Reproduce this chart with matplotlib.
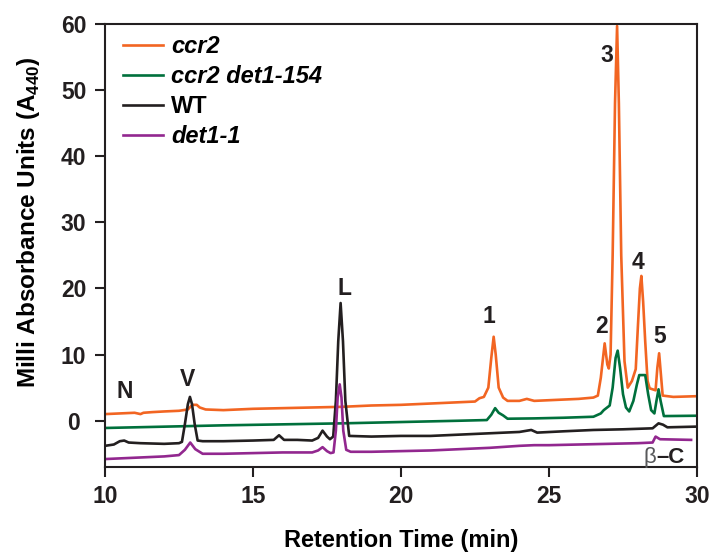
import matplotlib
matplotlib.use("Agg")
import matplotlib.pyplot as plt

plt.rcParams['font.family'] = ['Liberation Sans', 'DejaVu Sans']
plt.rcParams['font.weight'] = 'bold'
plt.rcParams['mathtext.fontset'] = 'custom'
plt.rcParams['mathtext.rm'] = 'Liberation Sans:bold'
plt.rcParams['mathtext.bf'] = 'Liberation Sans:bold'

# traces (time in min, mAU)
ccr2_t = [10.0, 10.5, 11.0, 11.2, 11.3, 11.6, 12.0, 12.5, 12.8, 12.95, 13.1, 13.2, 13.4,
          14.0, 15.0, 16.0, 17.0, 18.0, 19.0, 20.0, 21.0, 22.0, 22.5, 22.65, 22.8,
          22.95, 23.05, 23.13, 23.2, 23.3, 23.45, 23.6, 24.0, 24.25, 24.5, 25.0, 26.0,
          26.5, 26.65, 26.75, 26.88, 26.97, 27.02, 27.08, 27.15, 27.23, 27.3, 27.36,
          27.44, 27.55, 27.66, 27.8, 27.93, 28.0, 28.07, 28.12, 28.18, 28.25, 28.33,
          28.4, 28.6, 28.66, 28.72, 28.78, 28.84, 29.2, 29.93]
ccr2_v = [1.0, 1.1, 1.2, 1.0, 1.2, 1.3, 1.4, 1.5, 1.7, 2.4, 2.4, 2.0, 1.7,
          1.6, 1.8, 1.9, 2.0, 2.1, 2.3, 2.4, 2.6, 2.8, 2.9, 3.4, 3.6,
          5.0, 9.5, 12.7, 10.0, 5.0, 3.5, 3.0, 3.0, 3.3, 3.0, 3.1, 3.3,
          3.5, 3.8, 6.5, 11.7, 8.5, 7.9, 10.0, 25.0, 48.0, 59.7, 48.0,
          25.0, 9.0, 5.0, 6.0, 7.8, 14.0, 20.0, 21.9, 18.0, 12.0, 6.0,
          4.9, 4.6, 8.0, 10.2, 7.0, 3.8, 3.6, 3.7]

det154_t = [10.0, 12.0, 14.0, 16.0, 18.0, 20.0, 22.0, 22.9, 23.05, 23.18, 23.3, 23.45,
            23.6, 24.5, 25.5, 26.5, 26.75, 26.85, 27.05, 27.15, 27.25, 27.32, 27.4,
            27.5, 27.6, 27.71, 27.85, 27.97, 28.05, 28.25, 28.35, 28.45, 28.56, 28.63,
            28.7, 28.77, 28.88, 29.93]
det154_v = [-1.1, -0.9, -0.7, -0.55, -0.4, -0.2, 0.0, 0.1, 0.9, 1.9, 1.2, 0.8,
            0.3, 0.35, 0.45, 0.6, 1.1, 1.6, 2.3, 5.0, 9.5, 10.6, 8.0,
            4.0, 2.0, 1.4, 3.0, 5.5, 6.9, 6.9, 4.0, 1.6, 1.1, 3.0,
            4.75, 3.0, 0.7, 0.75]

wt_t = [10.0, 10.3, 10.5, 10.65, 10.8, 11.2, 12.0, 12.5, 12.6, 12.7, 12.8, 12.87,
        12.94, 13.03, 13.13, 13.3, 14.0, 15.0, 15.7, 15.88, 16.05, 16.5, 17.0, 17.2,
        17.35, 17.5, 17.6, 17.71, 17.8, 17.88, 17.96, 18.04, 18.12, 18.25, 19.0,
        20.0, 21.0, 22.0, 23.0, 24.0, 24.4, 24.6, 25.5, 26.5, 27.5, 28.5, 28.7,
        28.85, 29.0, 29.93]
wt_v = [-3.8, -3.6, -3.1, -3.0, -3.3, -3.4, -3.5, -3.4, -3.2, -0.5, 2.5, 3.6,
        2.5, -0.5, -3.0, -3.1, -3.1, -3.0, -2.9, -2.2, -2.9, -2.9, -3.0, -2.6,
        -1.5, -2.4, -2.8, -2.4, 3.0, 12.0, 17.8, 12.0, 3.0, -2.3, -2.4,
        -2.3, -2.3, -2.1, -1.9, -1.7, -1.4, -1.8, -1.6, -1.4, -1.3, -1.15, -0.4,
        -0.6, -1.0, -0.9]

det1_t = [10.0, 11.0, 12.0, 12.5, 12.7, 12.88, 13.05, 13.3, 14.0, 15.0, 16.0, 17.0,
          17.2, 17.35, 17.5, 17.62, 17.72, 17.8, 17.86, 17.93, 17.99, 18.05, 18.15,
          18.3, 19.0, 20.0, 21.0, 22.0, 23.0, 24.0, 24.5, 25.0, 26.0, 27.0, 28.0,
          28.5, 28.6, 28.75, 29.8]
det1_v = [-5.8, -5.6, -5.4, -5.2, -4.4, -3.3, -4.3, -5.0, -5.0, -4.9, -4.8, -4.8,
          -4.5, -4.0, -4.6, -4.9, -4.8, -1.5, 3.5, 5.5, 3.5, -1.5, -4.4,
          -4.7, -4.7, -4.6, -4.5, -4.3, -4.1, -3.8, -3.7, -3.7, -3.6, -3.5, -3.4,
          -3.3, -2.4, -2.8, -2.9]

series_names = ['ccr2', 'ccr2 det1-154', 'WT', 'det1-1']
series_colors = ['#F26522', '#00703C', '#231F20', '#92278F']

peak_labels = ['N', 'V', 'L', '1', '2', '3', '4', '5']
peak_t = [10.68, 12.8, 18.1, 22.97, 26.78, 26.95, 28.0, 28.73]
peak_v = [4.4, 6.2, 20.0, 15.7, 14.2, 55.3, 24.0, 12.7]

fig = plt.figure(figsize=(7.25, 5.52), dpi=100)
ax = fig.add_axes([0.1448, 0.154, 0.8166, 0.8025])

traces = [(ccr2_t, ccr2_v), (det154_t, det154_v), (wt_t, wt_v), (det1_t, det1_v)]
for (t, v), name, c in zip(traces, series_names, series_colors):
    ax.plot(t, v, color=c, lw=1.9, label=name, solid_joinstyle='round')

for lab, t, v in zip(peak_labels, peak_t, peak_v):
    ax.text(t, v, lab, fontsize=16.5, fontweight='bold', ha='center', va='center',
            color='#231F20')

ax.text(28.62, -5.6, 'β', fontsize=16, fontweight='normal', ha='right', va='center',
        color='#58595B')
ax.text(28.62, -5.6, '–C', fontsize=16, fontweight='bold', ha='left', va='center',
        color='#231F20')

ax.set_xlim(10, 30)
ax.set_ylim(-7, 60)
ax.set_xticks([10, 15, 20, 25, 30])
ax.set_yticks([0, 10, 20, 30, 40, 50, 60])
ax.tick_params(direction='out', length=7.5, width=1.5, labelsize=16.5, colors='#231F20')
ax.tick_params(axis='x', pad=5.5)
ax.tick_params(axis='y', pad=15)
for lbl in ax.get_yticklabels():
    lbl.set_horizontalalignment('center')
for s in ax.spines.values():
    s.set_linewidth(1.5)
    s.set_color('#231F20')

ax.set_xlabel('Retention Time (min)', fontsize=17, fontweight='bold', labelpad=15)
ax.set_ylabel(r'Milli Absorbance Units (A$_{\mathbf{440}}$)', fontsize=17.5,
              fontweight='bold')
ax.yaxis.set_label_coords(-0.106, 0.553)

leg = ax.legend(loc='upper left', bbox_to_anchor=(0.03, 0.975), frameon=False,
                fontsize=17, handlelength=1.7, handletextpad=0.35, labelspacing=0.3,
                borderpad=0, borderaxespad=0)
for txt in leg.get_texts():
    txt.set_fontweight('bold')
    if txt.get_text() != 'WT':
        txt.set_fontstyle('italic')

fig.savefig('out.png', dpi=100)
